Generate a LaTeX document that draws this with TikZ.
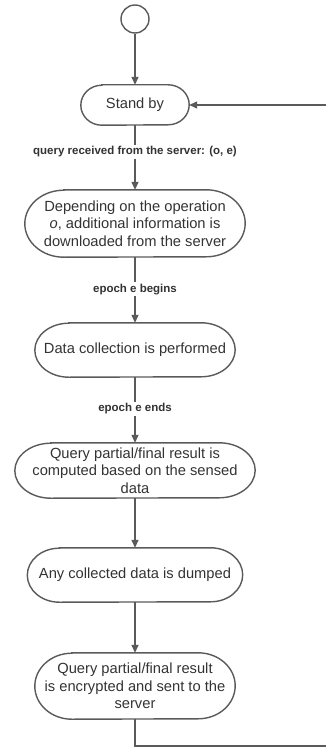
\documentclass[tikz,border=0pt]{standalone}
\usepackage{fontspec}
\setmainfont{Liberation Sans}
\usetikzlibrary{arrows.meta}
\definecolor{linegray}{HTML}{5A5A5A}
\definecolor{textgray}{HTML}{333333}

% Terminator outline around a borderless node: #1 node, #2 end x-radius, #3 half height
\newcommand{\termshape}[3]{%
  \draw[flowline] ([xshift=#2]#1.north west) -- ([xshift=-#2]#1.north east)
    arc[start angle=90,end angle=-90,x radius=#2,y radius=#3]
    -- ([xshift=#2]#1.south west)
    arc[start angle=270,end angle=90,x radius=#2,y radius=#3] -- cycle;}

\begin{document}
\begin{tikzpicture}[x=1pt,y=-1pt,
  flowline/.style={draw=linegray, line width=1.4pt},
  arrowline/.style={flowline, -{Triangle[length=8pt,width=7pt]}},
  state/.style={inner sep=0pt, align=center, text=textgray,
    font=\fontsize{14.7}{17.7}\selectfont},
  guard/.style={fill=white, inner sep=1.5pt, text=textgray,
    font=\bfseries\fontsize{11.5}{13}\selectfont}]

\useasboundingbox (0,0) rectangle (326,749);

% initial state
\node[draw=linegray, line width=1.4pt, circle, minimum size=28pt, inner sep=0pt] (start) at (135,19) {};

% states
\node[state, minimum width=108pt, minimum height=40pt] (standby) at (135,105) {Stand by};
\termshape{standby}{21pt}{20pt}

\node[state, minimum width=220pt, minimum height=67pt] (download) at (135,223.5)
  {Depending on the operation\\\textit{o}, additional information is\\downloaded from the server};
\termshape{download}{39pt}{33.5pt}

\node[state, minimum width=200pt, minimum height=54pt] (collect) at (135,350) {Data collection is performed};
\termshape{collect}{34pt}{27pt}

\node[state, minimum width=240pt, minimum height=55pt] (compute) at (135,470.5)
  {Query partial/final result is\\computed based on the sensed\\data};
\termshape{compute}{36pt}{27.5pt}

\node[state, minimum width=215pt, minimum height=54pt] (dump) at (135,575) {Any collected data is dumped};
\termshape{dump}{32pt}{27pt}

\node[state, minimum width=200pt, minimum height=66pt] (send) at (135,686) 
  {Query partial/final result\\is encrypted and sent to the\\server};
\termshape{send}{37pt}{33pt}

% loop ends at the page edge
\coordinate (loopin) at (326,105);
\coordinate (loopout) at (326,746);

% transitions
\draw[arrowline] (start) -- (standby);
\draw[arrowline] (standby) -- node[guard, pos=0.415] {query received from the server: (o, e)} (download);
\draw[arrowline] (download) -- node[guard, pos=0.49] {epoch e begins} (collect);
\draw[arrowline] (collect) -- node[guard, pos=0.48] {epoch e ends} (compute);
\draw[arrowline] (compute) -- (dump);
\draw[arrowline] (dump) -- (send);
\draw[flowline] (send) |- (loopout);
\draw[arrowline] (loopin) -- (standby);
\end{tikzpicture}
\end{document}
